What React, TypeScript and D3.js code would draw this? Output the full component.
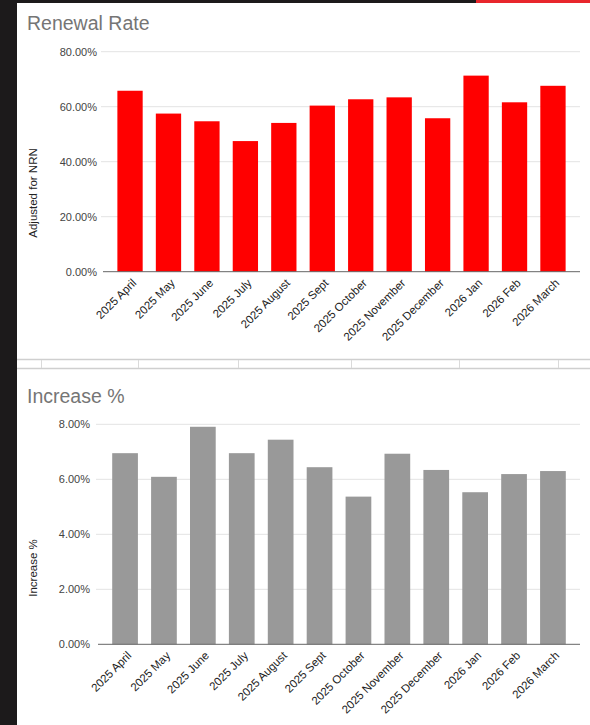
import React from "react";
import * as d3 from "d3";

const categories = [
  "2025 April", "2025 May", "2025 June", "2025 July", "2025 August", "2025 Sept",
  "2025 October", "2025 November", "2025 December", "2026 Jan", "2026 Feb", "2026 March",
];
const renewalRate = [65.8, 57.5, 54.7, 47.5, 54.1, 60.4, 62.7, 63.4, 55.8, 71.3, 61.6, 67.6];
const increasePct = [6.95, 6.09, 7.91, 6.95, 7.44, 6.44, 5.37, 6.93, 6.34, 5.53, 6.19, 6.3];
const renewalTicks = [0, 20, 40, 60, 80];
const increaseTicks = [0, 2, 4, 6, 8];
const separatorCols = [41, 138, 238, 351, 459, 558];

const FONT = "'Liberation Sans', Arial, sans-serif";

type ChartProps = {
  title: string;
  titleY: number;
  yTitle: string;
  yTitleCenter: number;
  values: number[];
  ticks: number[];
  yMax: number;
  yTop: number;
  yBottom: number;
  xLeft: number;
  xRight: number;
  padInner: number;
  padOuter: number;
  color: string;
  labelGap: number;
};

function BarChart(p: ChartProps) {
  const x = d3
    .scaleBand<string>()
    .domain(categories)
    .range([p.xLeft, p.xRight])
    .paddingInner(p.padInner)
    .paddingOuter(p.padOuter);
  const y = d3.scaleLinear().domain([0, p.yMax]).range([p.yBottom, p.yTop]);
  const fmt = (v: number) => v.toFixed(2) + "%";
  return (
    <g>
      <text x={27} y={p.titleY} fontFamily={FONT} fontSize={19.5} fill="#757575">
        {p.title}
      </text>
      {p.ticks.map((t) => (
        <g key={t}>
          {t !== 0 && (
            <line x1={p.xLeft - 2} x2={p.xRight} y1={y(t)} y2={y(t)} stroke="#e3e3e3" strokeWidth={1} />
          )}
          <text
            x={p.xLeft - p.labelGap}
            y={y(t) + 4}
            textAnchor="end"
            fontFamily={FONT}
            fontSize={11}
            fill="#444"
          >
            {fmt(t)}
          </text>
        </g>
      ))}
      {p.values.map((v, i) => (
        <rect
          key={categories[i]}
          x={x(categories[i])}
          y={y(v)}
          width={x.bandwidth()}
          height={y(0) - y(v)}
          fill={p.color}
        />
      ))}
      <line x1={p.xLeft} x2={p.xRight} y1={y(0)} y2={y(0)} stroke="#666" strokeWidth={1} />
      {categories.map((c) => {
        const cx = (x(c) as number) + x.bandwidth() / 2;
        return (
          <text
            key={c}
            transform={`translate(${cx + 7},${y(0) + 12}) rotate(-45)`}
            textAnchor="end"
            fontFamily={FONT}
            fontSize={11.5}
            fill="#222"
          >
            {c}
          </text>
        );
      })}
      <text
        transform={`translate(37,${p.yTitleCenter}) rotate(-90)`}
        textAnchor="middle"
        fontFamily={FONT}
        fontSize={11.5}
        fill="#222"
      >
        {p.yTitle}
      </text>
    </g>
  );
}

export default function App() {
  return (
    <svg
      width={590}
      height={725}
      style={{ position: "absolute", left: 0, top: 0, display: "block" }}
    >
      <rect x={0} y={0} width={590} height={725} fill="#ffffff" />
      {/* separator (spreadsheet cell borders) */}
      <line x1={17} x2={590} y1={359.5} y2={359.5} stroke="#cfcfcf" strokeWidth={1.5} />
      <line x1={17} x2={590} y1={368.5} y2={368.5} stroke="#cfcfcf" strokeWidth={1.5} />
      {separatorCols.map((cx) => (
        <line key={cx} x1={cx + 0.5} x2={cx + 0.5} y1={360} y2={368} stroke="#dadada" strokeWidth={1} />
      ))}
      <BarChart
        title="Renewal Rate"
        titleY={30}
        yTitle="Adjusted for NRN"
        yTitleCenter={193}
        values={renewalRate}
        ticks={renewalTicks}
        yMax={80}
        yTop={51.7}
        yBottom={271.7}
        xLeft={103}
        xRight={580}
        padInner={0.342}
        padOuter={0.374}
        color="#ff0000"
        labelGap={6}
      />
      <BarChart
        title="Increase %"
        titleY={403}
        yTitle="Increase %"
        yTitleCenter={568}
        values={increasePct}
        ticks={increaseTicks}
        yMax={8}
        yTop={424.3}
        yBottom={644.3}
        xLeft={98}
        xRight={580}
        padInner={0.339}
        padOuter={0.365}
        color="#999999"
        labelGap={8}
      />
      {/* frame: dark left strip and top bar */}
      <rect x={0} y={0} width={17} height={725} fill="#1c1a1b" />
      <rect x={17} y={0} width={573} height={3} fill="#1c1a1b" />
      <rect x={476} y={0} width={114} height={3} fill="#e8262c" />
    </svg>
  );
}
